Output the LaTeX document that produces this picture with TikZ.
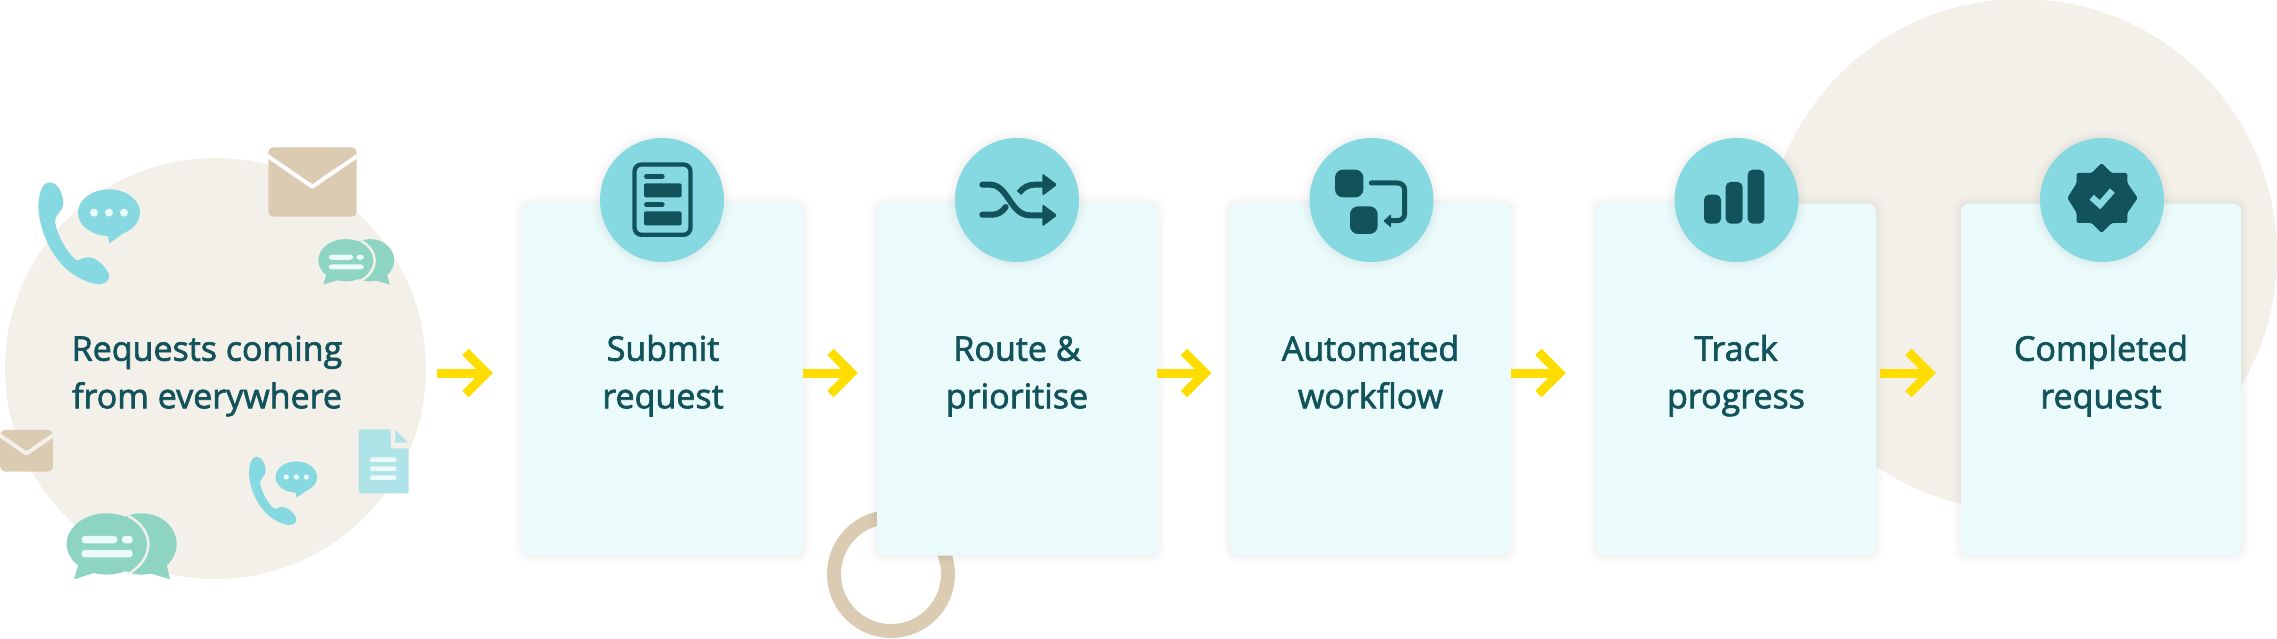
\documentclass[tikz,border=0pt]{standalone}
\usepackage{fontspec}
\usetikzlibrary{arrows.meta}
\newfontfamily\labelfont{Open Sans}[RawFeature={embolden=2}]
\definecolor{paper}{HTML}{F3EFE9}
\definecolor{sand}{HTML}{DCCBB3}
\definecolor{cardbg}{HTML}{EBFAFA}
\definecolor{aqua}{HTML}{86D9E0}
\definecolor{pine}{HTML}{12525B}
\definecolor{mint}{HTML}{8DD5C2}
\definecolor{pale}{HTML}{AEE3E8}
\definecolor{sun}{HTML}{FFDD00}
\newcommand{\twolines}[2]{\rule{0pt}{30pt}#1\\#2\rule[-20pt]{0pt}{20pt}}
\tikzset{
    softshadow/.style={
        preaction={draw=black,draw opacity=.012,line width=16pt},
        preaction={draw=black,draw opacity=.012,line width=11pt},
        preaction={draw=black,draw opacity=.012,line width=7pt},
        preaction={draw=black,draw opacity=.012,line width=3pt}
    },
    card/.style={
        rectangle,rounded corners=8pt,fill=cardbg,softshadow,inner sep=0pt,
        minimum width=280pt,minimum height=352pt
    },
    cardlabel/.style={
        align=center,text=pine,inner sep=0pt,
        font=\labelfont\fontsize{34}{47.5}\selectfont
    },
    iconbg/.style={circle,fill=aqua,softshadow,inner sep=0pt,minimum size=124pt},
    flowarrow/.style={
        draw=sun,line width=9pt,
        -{Straight Barb[length=21pt,width=42pt,sharp]}
    },
    crop/.style 2 args={shift={(#1,#2)},x=.3333pt,y=-.3333pt}
}
\begin{document}
\begin{tikzpicture}[x=1pt,y=-1pt,
pics/phone/.style={code={
    \fill[aqua] (150,187) .. controls (125,187) and (115,225) .. (115,262)
      .. controls (118,340) and (170,470) .. (290,492)
      .. controls (315,495) and (335,480) .. (325,460)
      .. controls (315,435) and (280,405) .. (255,413)
      .. controls (240,418) and (232,425) .. (225,418)
      .. controls (195,390) and (170,340) .. (165,305)
      .. controls (163,285) and (190,275) .. (190,250)
      .. controls (190,225) and (175,187) .. (150,187);
    \fill[aqua] (327,278) ellipse [x radius=93,y radius=70];
    \fill[aqua] (322,340) -- (328,370) -- (368,342) -- cycle;
    \foreach \X in {282,327,372} {\fill[cardbg] (\X,278) circle (12);}
}},
pics/twochat/.style={code={
    \fill[mint] (425,1272) ellipse [x radius=105,y radius=92];
    \fill[mint] (500,1335) -- (510,1378) -- (450,1360) -- cycle;
    \fill[mint] (320,1272) ellipse [x radius=120,y radius=92];
    \fill[mint] (235,1335) -- (222,1378) -- (285,1358) -- cycle;
    \draw[paper,line width=2.5pt] (385,1188) .. controls (465,1230) and (465,1315) .. (385,1362);
    \fill[cardbg,rounded corners=3pt] (245,1248) rectangle (352,1270);
    \fill[cardbg,rounded corners=3pt] (366,1248) rectangle (398,1270);
    \fill[cardbg,rounded corners=3pt] (245,1290) rectangle (398,1312);
}},
pics/envelope/.style={code={
    \fill[sand,rounded corners=5pt] (0,0) rectangle (265,208);
    \draw[#1,line width=4pt,line join=round] (-2,26) -- (132,118) -- (267,26);
}}]
\useasboundingbox (0,0) rectangle (2277,639);
\coordinate (flowline) at (0,373);
% backdrop
\fill[paper] (2021,255) circle (256);
\node[circle,fill=paper,inner sep=0pt,minimum size=421pt] (reqcircle) at (215.5,368.5) {};
\node[circle,draw=sand,line width=14pt,inner sep=0pt,minimum size=114pt] (ring) at (891,574) {};
% scattered icons
\begin{scope}[crop={0}{120}]
    \pic at (0,0) {phone};
    \pic[scale=.67] at (670,885) {phone};
    \pic at (0,0) {twochat};
    \pic[scale=.69] at (817,-457) {twochat};
    \pic at (805,82) {envelope=white};
    \pic[scale=.6] at (0,930) {envelope=paper};
    \fill[pale,rounded corners=2pt] (1076,928) -- (1172,928) -- (1172,985) -- (1226,985)
      -- (1226,1120) -- (1076,1120) -- cycle;
    \fill[pale] (1186,930) -- (1224,968) -- (1186,968) -- cycle;
    \foreach \Y in {1012,1039,1066} {\fill[cardbg,rounded corners=2pt] (1110,\Y) rectangle (1190,\Y+14);}
\end{scope}
\node[cardlabel] (reqlabel) at (207,379.5) {\twolines{Requests coming}{from everywhere}};
% steps
\foreach \X/\C/\D/\A/\B in {1/663/662/Submit/request,2/1017/1017/Route \&/prioritise,
    3/1370.5/1371.5/Automated/workflow,4/1736/1736.5/Track/progress,5/2101/2102/Completed/request}
{
    \node[card,cardlabel] (card\X) at (\C,379.5) {\twolines{\A}{\B}};
    \node[iconbg] (icon\X) at (\D,200) {};
}
% flow
\draw[flowarrow,shorten <=11pt,shorten >=30pt] (reqcircle.east |- flowline) -- (card1.west |- flowline);
\draw[flowarrow,shorten >=19pt] (card1.east |- flowline) -- (card2.west |- flowline);
\draw[flowarrow,shorten >=19pt] (card2.east |- flowline) -- (card3.west |- flowline);
\draw[flowarrow,shorten >=30pt] (card3.east |- flowline) -- (card4.west |- flowline);
\draw[flowarrow,shorten <=4pt,shorten >=25pt] (card4.east |- flowline) -- (card5.west |- flowline);
% form
\begin{scope}[crop={600}{138}]
    \draw[pine,line width=4.3pt,rounded corners=7pt] (103.5,79.5) rectangle (271.5,290.5);
    \draw[pine,line width=4.6pt,line cap=round] (139,115) -- (187,115) (139,199) -- (187,199);
    \fill[pine,rounded corners=2pt] (132,136) rectangle (245,178);
    \fill[pine,rounded corners=2pt] (132,220) rectangle (245,262);
\end{scope}
% shuffle
\begin{scope}[crop={955}{138}]
    \draw[pine,line width=6pt,line cap=round] (82,140) -- (105,140) .. controls (160,140) and (165,232) .. (225,232) -- (270,232);
    \draw[pine,line width=6pt,line cap=round] (82,230) -- (112,230) .. controls (128,230) and (142,222) .. (152,207);
    \draw[pine,line width=6pt,line cap=butt] (192,165) .. controls (205,148) and (220,140) .. (240,140) -- (270,140);
    \fill[pine,rounded corners=1.5pt] (262,106) -- (307,140) -- (262,174) -- cycle;
    \fill[pine,rounded corners=1.5pt] (262,198) -- (307,232) -- (262,266) -- cycle;
\end{scope}
% workflow
\begin{scope}[crop={1310}{138}]
    \fill[pine,rounded corners=8pt] (75,95) rectangle (160,178);
    \fill[pine,rounded corners=8pt] (120,205) rectangle (203,288);
    \draw[pine,line width=5pt,line cap=round,rounded corners=7pt] (184,135) -- (284,135) -- (284,248) -- (238,248);
    \fill[pine,rounded corners=1pt] (220,249) -- (243,228) -- (243,269) -- cycle;
\end{scope}
% bars
\begin{scope}[crop={1675}{138}]
    \fill[pine,rounded corners=5pt] (87,170) rectangle (138,257);
    \fill[pine,rounded corners=5pt] (152,132) rectangle (203,257);
    \fill[pine,rounded corners=5pt] (218,95) rectangle (268,257);
\end{scope}
% badge
\begin{scope}[crop={2040}{138}]
    \fill[pine,rounded corners=1.5pt] (185,75) -- (215,105) -- (262,105) -- (262,135) -- (293,180) -- (262,225)
      -- (262,255) -- (215,255) -- (185,285) -- (155,255) -- (110,255) -- (110,225) -- (82,180)
      -- (110,135) -- (110,105) -- (155,105) -- cycle;
    \draw[aqua,line width=6.5pt] (155,178) -- (180,200) -- (217,158);
\end{scope}
\end{tikzpicture}
\end{document}
